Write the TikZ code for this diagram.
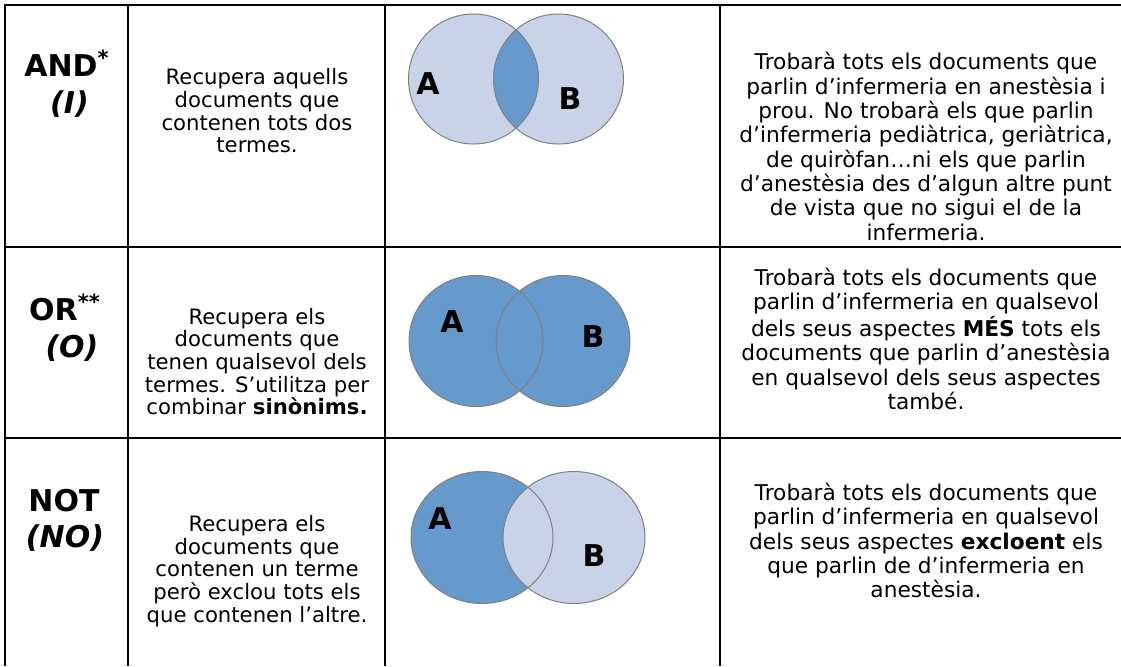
\documentclass[tikz,border=0pt]{standalone}
\usepackage{fontspec}
\setmainfont{DejaVu Sans}
\usetikzlibrary{positioning}

\definecolor{setlight}{RGB}{200,211,231}
\definecolor{setdark}{RGB}{102,153,204}
\definecolor{setedge}{RGB}{128,128,128}

\begin{document}
\begin{tikzpicture}[x=0.5pt, y=-0.5pt,
  rule/.style={line width=1.1pt},
  opname/.style={anchor=base, inner sep=0pt, font=\bfseries\fontsize{15}{17}\selectfont},
  desc/.style={align=center, inner sep=0pt, font=\fontsize{10.6}{11.35}\selectfont},
  example/.style={align=center, inner sep=0pt, font=\fontsize{10.85}{12.15}\selectfont},
  setlbl/.style={inner sep=0pt, font=\bfseries\fontsize{15}{15}\selectfont},
  edge/.style={draw=setedge, line width=0.5pt}]

\useasboundingbox (0,0) rectangle (1121,666);

% table rules
\draw[rule] (4,5) -- (1121,5);
\draw[rule] (4,247) -- (1121,247);
\draw[rule] (4,438) -- (1121,438);
\foreach \x in {5,128,385,720} \draw[rule] (\x,4) -- (\x,666);

% AND
\node[opname] (andop) at (67,76) {AND\textsuperscript{*}};
\node[opname] (andcat) at (69.5,113) {\itshape (I)};
\node[desc] (anddesc) at (257,111) {Recupera aquells\\documents que\\contenen tots dos\\termes.};

\fill[setlight] (473.5,79) circle [radius=65];
\fill[setlight] (558.5,79) circle [radius=65];
\begin{scope}
  \clip (473.5,79) circle [radius=65];
  \fill[setdark] (558.5,79) circle [radius=65];
\end{scope}
\draw[edge] (473.5,79) circle [radius=65];
\draw[edge] (558.5,79) circle [radius=65];
\node[setlbl] (andA) at (428,84) {A};
\node[setlbl] (andB) at (570,99) {B};

\node[example] (andex) at (926,146.5) {Trobarà tots els documents que\\parlin d’infermeria en anestèsia i\\prou. No trobarà els que parlin\\d’infermeria pediàtrica, geriàtrica,\\de quiròfan…ni els que parlin\\d’anestèsia des d’algun altre punt\\de vista que no sigui el de la\\infermeria.};

% OR
\node[opname] (orop) at (65,320) {OR\textsuperscript{**}};
\node[opname] (orcat) at (72,357) {\itshape (O)};
\node[desc] (ordesc) at (257,361.5) {Recupera els\\documents que\\tenen qualsevol dels\\termes. S’utilitza per\\combinar \textbf{sinònims.}};

\fill[setdark] (476,341) ellipse [x radius=67, y radius=65.5];
\fill[setdark] (563,341) ellipse [x radius=67, y radius=65.5];
\draw[edge] (476,341) ellipse [x radius=67, y radius=65.5];
\draw[edge] (563,341) ellipse [x radius=67, y radius=65.5];
\node[setlbl] (orA) at (452,322) {A};
\node[setlbl] (orB) at (593,337) {B};

\node[example] (orex) at (926,339) {Trobarà tots els documents que\\parlin d’infermeria en qualsevol\\dels seus aspectes \textbf{MÉS} tots els\\documents que parlin d’anestèsia\\en qualsevol dels seus aspectes\\també.};

% NOT
\node[opname] (notop) at (64,511) {NOT};
\node[opname] (notcat) at (65,547) {\itshape (NO)};
\node[desc] (notdesc) at (257,571) {Recupera els\\documents que\\contenen un terme\\però exclou tots els\\que contenen l’altre.};

\fill[setdark] (482,537.5) ellipse [x radius=71, y radius=66];
\fill[setlight] (574,537.5) ellipse [x radius=71, y radius=66];
\draw[edge] (482,537.5) ellipse [x radius=71, y radius=66];
\draw[edge] (574,537.5) ellipse [x radius=71, y radius=66];
\node[setlbl] (notA) at (440,519) {A};
\node[setlbl] (notB) at (594,556) {B};

\node[example] (notex) at (926,540.5) {Trobarà tots els documents que\\parlin d’infermeria en qualsevol\\dels seus aspectes \textbf{excloent} els\\que parlin de d’infermeria en\\anestèsia.};

\end{tikzpicture}
\end{document}
